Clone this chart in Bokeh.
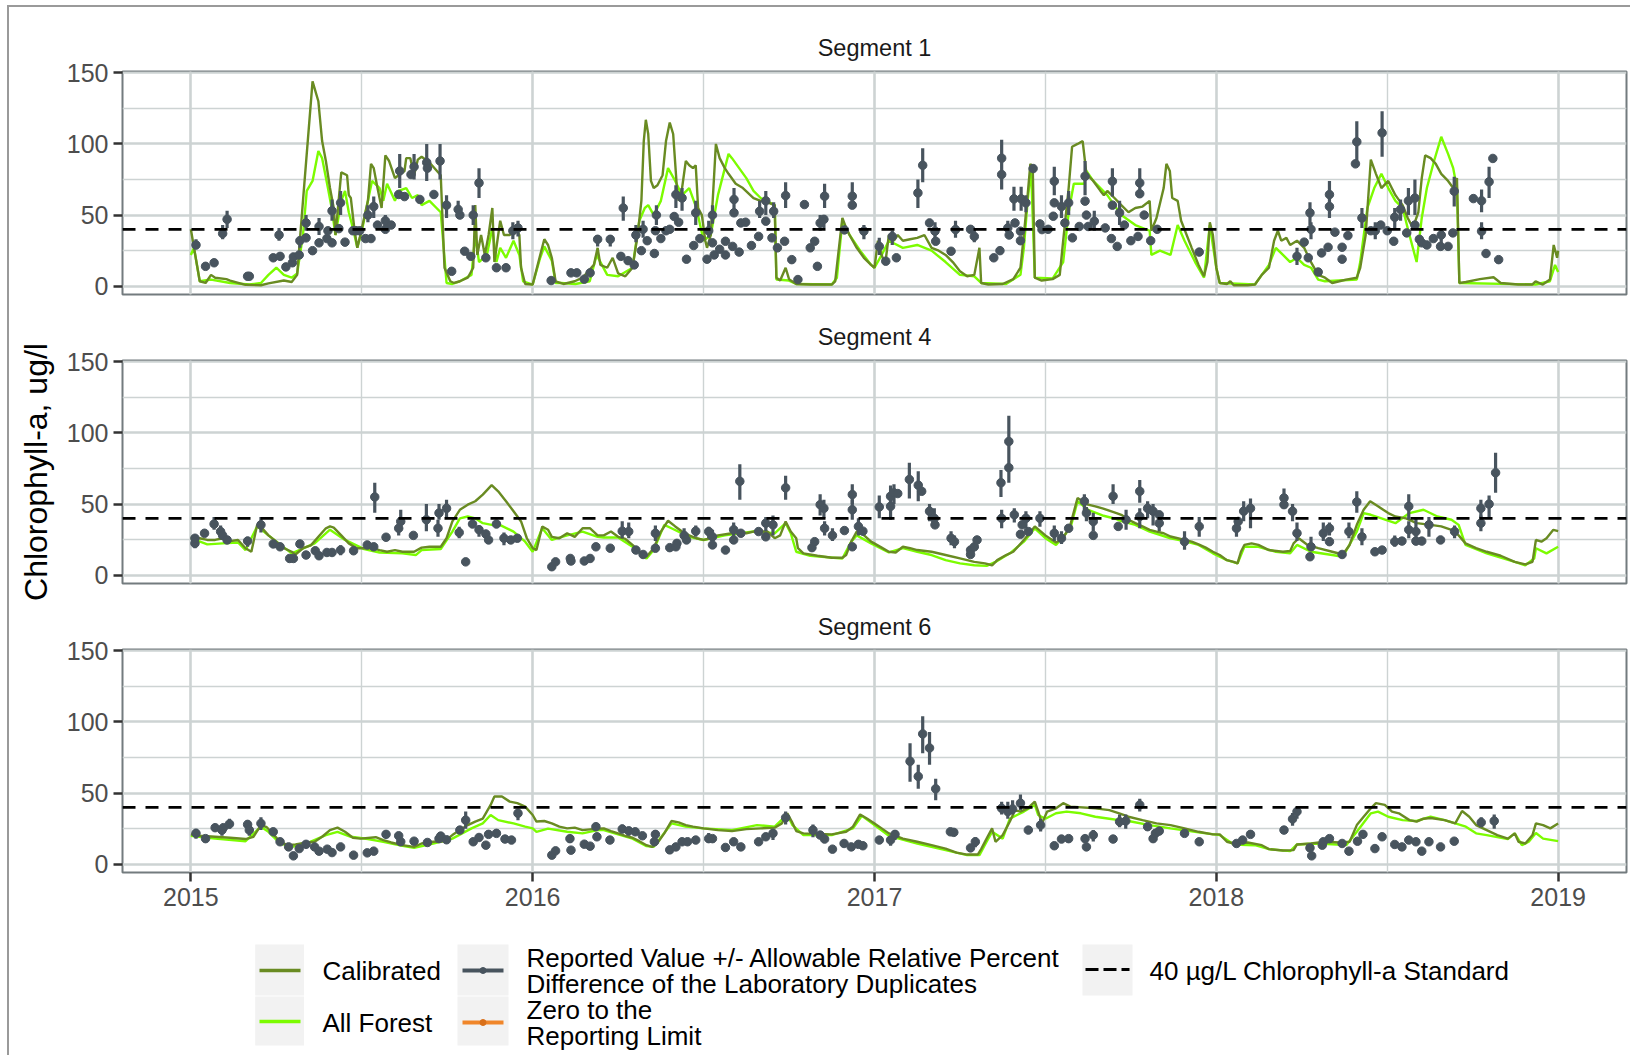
from bokeh.plotting import figure
from bokeh.models import Range1d, FixedTicker, Span, Grid, Title
from bokeh.layouts import column
from bokeh.embed import file_html
from bokeh.resources import INLINE
from bokeh.core.properties import value

# ---------------- data (decimal years, chlorophyll-a ug/l) ----------------
YEAR_TICKS = [2015, 2016, 2017, 2018, 2019]
YEAR_LABELS = ["2015", "2016", "2017", "2018", "2019"]
MID_YEARS = [2015.5, 2016.5, 2017.5, 2018.5]
Y_TICKS = [0, 50, 100, 150]
Y_MINOR = [25, 75, 125]
STANDARD = 40
SEGMENTS = ["Segment 1", "Segment 4", "Segment 6"]
SERIES = ["Calibrated", "All Forest"]

S1_CAL = [(2015.000,40),(2015.026,3.5),(2015.043,2.3),(2015.059,8),(2015.071,6),(2015.104,5),(2015.115,4),(2015.160,1),(2015.205,0.7),(2015.227,2),(2015.272,4),(2015.295,3),(2015.311,8),(2015.328,60),(2015.356,144),(2015.373,130),(2015.384,102),(2015.395,88),(2015.407,69),(2015.418,55),(2015.423,36),(2015.440,80),(2015.457,78),(2015.462,64),(2015.468,62),(2015.479,39),(2015.487,27),(2015.496,36),(2015.518,60),(2015.527,86),(2015.535,83),(2015.546,69),(2015.558,55),(2015.569,92),(2015.580,88),(2015.597,76),(2015.614,79),(2015.625,81),(2015.630,90),(2015.642,90),(2015.653,78),(2015.664,89),(2015.675,91),(2015.698,87),(2015.720,81),(2015.731,78),(2015.742,13),(2015.759,3.5),(2015.770,2.3),(2015.787,3.5),(2015.810,6),(2015.826,13),(2015.832,57),(2015.838,22),(2015.849,36),(2015.860,22),(2015.871,36),(2015.882,55),(2015.888,17),(2015.905,46),(2015.916,36),(2015.933,36),(2015.950,41),(2015.961,36),(2015.966,13),(2015.978,1.6),(2016.000,1.2),(2016.022,22),(2016.034,33),(2016.045,29),(2016.056,20),(2016.067,3.5),(2016.090,1.6),(2016.123,3.5),(2016.146,6),(2016.179,15),(2016.190,27),(2016.198,15),(2016.218,13),(2016.234,20),(2016.250,9),(2016.271,7),(2016.292,13),(2016.307,36),(2016.318,60),(2016.325,102),(2016.331,117),(2016.338,107),(2016.346,74),(2016.354,69),(2016.365,71),(2016.380,78),(2016.390,102),(2016.401,115),(2016.411,107),(2016.422,69),(2016.427,60),(2016.437,69),(2016.448,88),(2016.458,85),(2016.469,83),(2016.477,85),(2016.484,55),(2016.495,50),(2016.505,32),(2016.510,27),(2016.521,36),(2016.536,100),(2016.547,90),(2016.562,83),(2016.573,79),(2016.594,72),(2016.615,69),(2016.646,62),(2016.667,60),(2016.687,59),(2016.708,57),(2016.713,6),(2016.724,4),(2016.740,13),(2016.750,5),(2016.771,1.6),(2016.812,1.2),(2016.875,1.2),(2016.885,3.5),(2016.896,27),(2016.906,48),(2016.917,41),(2016.927,36),(2016.948,27),(2016.969,20),(2016.990,15),(2017.000,13),(2017.010,32),(2017.021,22),(2017.031,15),(2017.042,36),(2017.057,32),(2017.068,36),(2017.083,32),(2017.104,33),(2017.125,34),(2017.146,36),(2017.167,27),(2017.188,25),(2017.208,22),(2017.229,17),(2017.250,10.5),(2017.271,7),(2017.292,8),(2017.307,27),(2017.312,2.3),(2017.333,1.2),(2017.375,1.6),(2017.406,5),(2017.427,13),(2017.437,36),(2017.448,64),(2017.456,86),(2017.463,83),(2017.469,6),(2017.489,4),(2017.521,5),(2017.542,8),(2017.552,32),(2017.568,69),(2017.578,98),(2017.594,100),(2017.609,102),(2017.620,79),(2017.640,74),(2017.661,67),(2017.671,64),(2017.681,67),(2017.702,62),(2017.722,57),(2017.743,52),(2017.763,55),(2017.784,56),(2017.805,60),(2017.810,39),(2017.825,48),(2017.846,69),(2017.854,86),(2017.864,81),(2017.871,62),(2017.887,60),(2017.897,46),(2017.928,27),(2017.948,15),(2017.964,7),(2017.974,17),(2017.981,45),(2017.990,36),(2018.000,13),(2018.010,2.3),(2018.031,1.6),(2018.041,3.5),(2018.051,0.7),(2018.092,0.7),(2018.113,1.2),(2018.133,8),(2018.154,13),(2018.169,32),(2018.180,39),(2018.190,32),(2018.205,34),(2018.216,29),(2018.236,32),(2018.257,27),(2018.277,17),(2018.298,8),(2018.318,6),(2018.339,2.3),(2018.360,3.5),(2018.380,4.7),(2018.411,6),(2018.421,13),(2018.437,36),(2018.452,89),(2018.467,79),(2018.483,69),(2018.503,74),(2018.524,64),(2018.545,57),(2018.560,48),(2018.575,41),(2018.591,52),(2018.601,76),(2018.611,92),(2018.627,90),(2018.642,86),(2018.658,79),(2018.678,74),(2018.693,69),(2018.704,76),(2018.711,2.3),(2018.730,3),(2018.771,5),(2018.811,6.3),(2018.832,2.3),(2018.883,1.2),(2018.924,1.2),(2018.934,3.5),(2018.955,1.2),(2018.976,4.7),(2018.987,29),(2018.997,20),(2019.000,25)]

S1_AF = [(2015.000,22),(2015.009,27),(2015.026,3.5),(2015.059,4.7),(2015.115,2.3),(2015.171,1.2),(2015.205,2.3),(2015.227,8),(2015.250,13),(2015.272,8),(2015.295,6),(2015.311,9),(2015.328,36),(2015.339,67),(2015.356,74),(2015.373,95),(2015.384,90),(2015.401,69),(2015.412,55),(2015.423,36),(2015.440,60),(2015.451,67),(2015.462,52),(2015.474,41),(2015.487,27),(2015.502,41),(2015.518,60),(2015.530,74),(2015.552,69),(2015.563,60),(2015.574,72),(2015.597,60),(2015.608,67),(2015.630,69),(2015.647,62),(2015.664,64),(2015.675,57),(2015.698,60),(2015.731,52),(2015.748,2.3),(2015.765,1.6),(2015.787,3.5),(2015.821,8),(2015.832,36),(2015.843,17),(2015.866,22),(2015.882,41),(2015.894,17),(2015.905,27),(2015.922,20),(2015.944,32),(2015.961,22),(2015.972,3.5),(2016.000,1.2),(2016.022,20),(2016.034,28),(2016.056,18),(2016.067,2.3),(2016.083,2.3),(2016.125,1.6),(2016.167,3.5),(2016.187,22),(2016.218,8),(2016.250,7),(2016.292,13),(2016.312,46),(2016.328,55),(2016.338,57),(2016.354,50),(2016.375,60),(2016.396,83),(2016.417,74),(2016.437,64),(2016.458,69),(2016.479,55),(2016.500,32),(2016.521,36),(2016.542,64),(2016.573,93),(2016.583,90),(2016.604,83),(2016.625,76),(2016.646,67),(2016.667,62),(2016.708,57),(2016.713,4.7),(2016.750,4),(2016.771,1.6),(2016.875,1.2),(2016.890,6),(2016.906,46),(2016.927,36),(2016.958,25),(2016.990,15),(2017.000,13),(2017.021,22),(2017.042,32),(2017.083,27),(2017.125,29),(2017.167,25),(2017.208,17),(2017.250,8),(2017.292,7),(2017.312,2.3),(2017.385,1.6),(2017.427,8),(2017.437,27),(2017.448,60),(2017.458,83),(2017.469,6),(2017.521,5.4),(2017.552,17),(2017.568,52),(2017.583,72),(2017.614,72),(2017.620,81),(2017.640,74),(2017.681,64),(2017.722,50),(2017.763,43),(2017.805,39),(2017.810,22),(2017.835,25),(2017.866,22),(2017.887,43),(2017.907,32),(2017.938,17),(2017.964,6),(2017.981,43),(2018.000,13),(2018.010,2.3),(2018.113,1.2),(2018.133,8),(2018.154,15),(2018.174,27),(2018.195,22),(2018.216,17),(2018.236,20),(2018.257,15),(2018.277,13),(2018.298,4.7),(2018.318,3.5),(2018.411,4.7),(2018.421,17),(2018.442,55),(2018.462,69),(2018.483,79),(2018.503,69),(2018.524,60),(2018.545,55),(2018.565,36),(2018.586,17),(2018.601,48),(2018.616,69),(2018.637,88),(2018.658,105),(2018.678,93),(2018.693,83),(2018.704,69),(2018.711,2.3),(2018.934,1.2),(2018.976,3.5),(2018.991,15),(2019.000,10)]

S1_OBS = [(2015.015,29),(2015.043,14),(2015.068,16.5),(2015.093,37),(2015.106,47),(2015.166,7),(2015.171,7),(2015.241,20),(2015.261,21),(2015.258,36),(2015.278,13.6),(2015.297,16.5),(2015.300,20.6),(2015.317,22),(2015.319,32),(2015.337,44.5),(2015.337,34),(2015.356,25),(2015.375,30.5),(2015.375,42),(2015.398,33.5),(2015.401,39),(2015.413,30.5),(2015.413,53),(2015.433,40.5),(2015.438,58.6),(2015.451,31),(2015.474,39),(2015.483,39),(2015.494,39),(2015.511,33.5),(2015.527,33.5),(2015.518,50),(2015.535,56),(2015.546,43),(2015.569,40),(2015.569,46),(2015.586,43),(2015.608,64.5),(2015.611,81),(2015.625,63),(2015.644,78.5),(2015.653,84),(2015.670,61),(2015.690,87),(2015.692,83),(2015.711,64.5),(2015.729,88),(2015.748,57),(2015.763,10.5),(2015.782,54),(2015.787,50),(2015.801,24.6),(2015.819,21),(2015.826,50),(2015.843,72.6),(2015.863,20),(2015.894,13),(2015.922,13),(2015.942,39),(2015.957,41),(2016.054,4),(2016.112,9.4),(2016.129,9.4),(2016.151,5),(2016.168,9.4),(2016.190,33),(2016.227,33),(2016.258,21),(2016.265,55),(2016.279,18),(2016.297,15),(2016.302,36),(2016.318,25),(2016.323,40),(2016.335,32),(2016.356,23),(2016.359,39),(2016.362,50),(2016.375,33.5),(2016.390,39),(2016.401,40),(2016.414,49),(2016.419,64.4),(2016.427,45),(2016.437,62),(2016.450,19),(2016.471,28.6),(2016.477,51.6),(2016.489,33.5),(2016.510,19),(2016.515,39),(2016.526,50),(2016.526,30.5),(2016.531,22),(2016.547,26),(2016.564,31.6),(2016.564,22),(2016.585,28),(2016.589,61),(2016.589,51.6),(2016.604,24),(2016.609,44.5),(2016.623,45),(2016.640,28.6),(2016.661,35),(2016.664,52.7),(2016.682,60),(2016.682,45.7),(2016.700,34),(2016.705,52.7),(2016.716,27),(2016.737,31.6),(2016.740,63.7),(2016.758,18.7),(2016.776,4.7),(2016.795,57.4),(2016.812,27),(2016.825,31.6),(2016.833,14),(2016.841,44.5),(2016.852,47),(2016.854,63.3),(2016.912,39.6),(2016.935,63.3),(2016.935,57),(2016.969,38.7),(2017.014,28),(2017.033,17.6),(2017.052,35),(2017.064,20),(2017.127,65.6),(2017.141,85),(2017.161,44.5),(2017.177,38.7),(2017.179,31.6),(2017.224,24.6),(2017.237,39.8),(2017.281,40),(2017.292,35),(2017.349,20),(2017.367,25),(2017.372,90),(2017.372,78.5),(2017.390,41),(2017.394,36),(2017.408,61.4),(2017.411,44.5),(2017.429,61.4),(2017.427,38.7),(2017.427,32),(2017.443,58.6),(2017.464,82.7),(2017.484,43.8),(2017.490,39.8),(2017.508,40),(2017.523,49.2),(2017.526,73.8),(2017.526,58.6),(2017.547,56),(2017.557,44.5),(2017.568,58.6),(2017.579,34),(2017.599,42),(2017.616,77.3),(2017.616,59.8),(2017.620,50),(2017.625,42),(2017.643,45.7),(2017.675,41),(2017.696,73.8),(2017.696,57),(2017.693,33.5),(2017.710,28),(2017.717,51.6),(2017.731,43),(2017.750,32),(2017.771,35),(2017.776,72.6),(2017.776,65),(2017.789,50),(2017.808,32),(2017.827,40),(2017.950,24),(2018.236,21),(2018.257,31),(2018.269,20),(2018.274,51.6),(2018.277,40),(2018.298,10),(2018.308,23.4),(2018.327,27.4),(2018.331,64.4),(2018.331,56),(2018.347,38),(2018.368,27.4),(2018.368,19),(2018.385,35.6),(2018.407,86),(2018.411,101.5),(2018.426,48),(2018.452,39),(2018.465,39),(2018.481,43),(2018.485,107.8),(2018.500,39),(2018.519,31.6),(2018.522,48.5),(2018.539,54),(2018.557,37.5),(2018.562,60),(2018.581,62),(2018.581,43),(2018.594,33),(2018.601,30.5),(2018.616,29),(2018.635,33.5),(2018.656,28),(2018.658,36),(2018.678,28),(2018.692,37.5),(2018.696,66.8),(2018.752,61.6),(2018.776,60),(2018.776,38.7),(2018.789,23),(2018.798,73.4),(2018.809,89.8),(2018.826,18.7)]

S1_ERR = [(2015.015,26,33),(2015.093,33,43),(2015.106,41,53),(2015.258,32,41),(2015.319,27,35),(2015.337,39,50),(2015.375,36,48),(2015.413,46,61),(2015.438,50,67),(2015.518,45,57),(2015.535,48,63),(2015.569,41,50),(2015.611,69,93),(2015.653,75,93),(2015.690,74,100),(2015.729,75,100),(2015.748,48,64),(2015.782,48,60),(2015.826,43,57),(2015.843,62,83),(2015.942,33,45),(2015.957,35,46),(2016.190,28,36),(2016.227,28,36),(2016.265,46,63),(2016.302,31,43),(2016.323,34,46),(2016.362,43,57),(2016.419,55,71),(2016.437,53,69),(2016.477,43,60),(2016.515,34,46),(2016.526,44,57),(2016.589,53,69),(2016.664,48,60),(2016.682,50,67),(2016.705,48,59),(2016.740,55,73),(2016.841,39,50),(2016.852,41,50),(2016.854,55,72),(2016.935,56,73),(2016.969,33,43),(2017.014,22,34),(2017.052,29,39),(2017.127,55,75),(2017.141,73,97),(2017.177,33,45),(2017.237,34,46),(2017.292,31,41),(2017.372,68,103),(2017.390,35,46),(2017.408,53,70),(2017.429,53,70),(2017.443,52,64),(2017.526,64,84),(2017.547,48,64),(2017.568,50,67),(2017.616,64,88),(2017.643,39,53),(2017.696,63,83),(2017.717,43,60),(2017.776,62,83),(2018.236,15,27),(2018.274,43,59),(2018.277,33,45),(2018.331,48,74),(2018.411,86,116),(2018.426,41,55),(2018.465,33,45),(2018.485,91,123),(2018.522,41,55),(2018.539,46,61),(2018.562,50,69),(2018.581,50,75),(2018.658,30,41),(2018.696,56,77),(2018.776,52,68),(2018.776,33,45),(2018.798,62,84)]

S4_CAL = [(2015.000,27),(2015.026,26),(2015.048,24.8),(2015.071,24.8),(2015.093,26),(2015.115,24),(2015.138,24.8),(2015.160,19),(2015.177,16.5),(2015.194,35.4),(2015.205,34),(2015.227,28),(2015.250,23.6),(2015.272,19),(2015.295,16.5),(2015.306,14.6),(2015.328,19),(2015.351,21),(2015.373,27),(2015.395,33),(2015.407,34.3),(2015.418,33.5),(2015.440,28),(2015.462,22.4),(2015.485,19),(2015.530,19),(2015.552,17.7),(2015.574,16.5),(2015.597,17.7),(2015.619,16.5),(2015.653,16.5),(2015.675,19.4),(2015.698,20),(2015.731,20),(2015.748,26),(2015.765,37.8),(2015.787,46),(2015.810,49.6),(2015.832,52),(2015.854,56.7),(2015.880,63.3),(2015.899,59),(2015.922,52),(2015.944,45),(2015.966,37.8),(2015.983,26),(2016.000,19),(2016.011,17.7),(2016.028,34.3),(2016.045,32),(2016.056,27),(2016.078,26),(2016.101,29.5),(2016.123,27),(2016.146,33),(2016.168,33),(2016.190,28),(2016.208,28),(2016.229,30.7),(2016.250,27),(2016.271,25.5),(2016.292,21.3),(2016.312,16.5),(2016.333,13),(2016.354,19),(2016.375,30.7),(2016.396,38.3),(2016.417,34.3),(2016.437,30.7),(2016.458,28),(2016.479,26),(2016.500,24.8),(2016.521,26),(2016.542,28),(2016.583,29.5),(2016.604,30.7),(2016.625,29.5),(2016.646,30.7),(2016.687,30.7),(2016.708,26),(2016.724,28),(2016.740,37.8),(2016.755,30.7),(2016.771,26),(2016.776,19),(2016.792,15.4),(2016.833,13.7),(2016.875,12.3),(2016.906,12.3),(2016.917,14.2),(2016.932,23.6),(2016.948,30.7),(2016.963,29.5),(2016.990,23.6),(2017.021,19.4),(2017.042,16.5),(2017.062,16),(2017.083,20),(2017.104,19),(2017.125,17.7),(2017.167,16.5),(2017.208,14.2),(2017.250,11.8),(2017.292,9.4),(2017.323,8.3),(2017.344,7),(2017.359,10.6),(2017.385,14.2),(2017.406,16.5),(2017.437,24.8),(2017.469,34.3),(2017.500,28),(2017.531,23),(2017.552,26),(2017.573,35.4),(2017.594,54.3),(2017.625,49.6),(2017.646,48.4),(2017.667,47),(2017.708,43.7),(2017.722,42.5),(2017.743,39),(2017.763,36.6),(2017.784,34.3),(2017.805,31.9),(2017.825,30.7),(2017.846,29.5),(2017.866,27.2),(2017.887,26),(2017.907,24.8),(2017.928,23.6),(2017.948,21.7),(2017.969,19.4),(2017.990,16.5),(2018.010,14.2),(2018.031,10.6),(2018.051,9.4),(2018.062,8.3),(2018.072,16.5),(2018.082,21.3),(2018.103,22.4),(2018.123,21.3),(2018.154,17.7),(2018.195,16.5),(2018.216,17),(2018.226,22.4),(2018.241,26),(2018.267,21.3),(2018.298,19),(2018.339,16.5),(2018.370,14.6),(2018.390,21.3),(2018.411,35.4),(2018.431,46),(2018.450,52),(2018.473,48.4),(2018.503,43.7),(2018.524,41.3),(2018.555,40),(2018.586,36.6),(2018.627,35.4),(2018.658,34.3),(2018.688,31.9),(2018.709,28),(2018.729,22.4),(2018.760,19),(2018.791,16.5),(2018.832,13.7),(2018.873,9.4),(2018.904,7.6),(2018.925,9.4),(2018.935,24.8),(2018.951,23.6),(2018.966,26),(2018.986,31.9),(2019.000,31)]

S4_AF = [(2015.000,26),(2015.048,21.7),(2015.093,22.4),(2015.138,23),(2015.160,17.7),(2015.194,34.3),(2015.227,28),(2015.295,15.4),(2015.317,17.7),(2015.362,22.4),(2015.407,32),(2015.451,24.8),(2015.507,18.4),(2015.552,16),(2015.619,15.4),(2015.658,14.2),(2015.675,17.7),(2015.731,18.4),(2015.765,30.7),(2015.787,40),(2015.810,41.3),(2015.832,40),(2015.854,36.6),(2015.880,35.4),(2015.899,35.9),(2015.944,30.7),(2015.978,23.6),(2016.000,16.5),(2016.028,33),(2016.056,24.8),(2016.101,28),(2016.146,30.7),(2016.190,27),(2016.208,26.5),(2016.250,26.5),(2016.292,20),(2016.333,11.8),(2016.354,17.7),(2016.385,35.4),(2016.406,33),(2016.458,27),(2016.500,24.8),(2016.562,28),(2016.646,30.7),(2016.708,29.5),(2016.740,36.6),(2016.755,29.5),(2016.771,16.5),(2016.812,13.7),(2016.906,11.8),(2016.932,23.6),(2016.948,28),(2016.990,22.4),(2017.042,16),(2017.083,19),(2017.125,16.5),(2017.167,14.2),(2017.208,10.6),(2017.250,8.3),(2017.292,7),(2017.328,6.6),(2017.354,9.4),(2017.396,15.4),(2017.437,23.6),(2017.469,33),(2017.500,26),(2017.531,21.3),(2017.573,33),(2017.594,52),(2017.625,46),(2017.667,42),(2017.708,39.5),(2017.722,38),(2017.763,35.4),(2017.805,30.7),(2017.866,26),(2017.907,24),(2017.948,21.3),(2017.990,15.4),(2018.031,10.6),(2018.062,8.3),(2018.082,20),(2018.123,20),(2018.174,16.5),(2018.216,15.4),(2018.236,21.3),(2018.277,16.5),(2018.339,14.2),(2018.370,13),(2018.411,30.7),(2018.431,43.7),(2018.452,42.5),(2018.483,40),(2018.524,36.6),(2018.565,43.7),(2018.606,46),(2018.647,41.3),(2018.688,39),(2018.709,35.4),(2018.729,21.3),(2018.791,15.4),(2018.873,9.4),(2018.904,7),(2018.930,11.8),(2018.935,19),(2018.966,15.4),(2019.000,20)]

S4_OBS = [(2015.012,22.4),(2015.012,26),(2015.040,29.5),(2015.068,36),(2015.087,30.7),(2015.093,28),(2015.106,24.8),(2015.166,24),(2015.205,35.4),(2015.241,22),(2015.261,20),(2015.289,11.8),(2015.300,11.8),(2015.319,22),(2015.337,14.2),(2015.364,17.2),(2015.375,13.7),(2015.398,16),(2015.413,16),(2015.438,17.7),(2015.476,17.2),(2015.516,21.3),(2015.535,20),(2015.538,55),(2015.571,26.7),(2015.608,33),(2015.614,37.8),(2015.651,28),(2015.689,39),(2015.723,33),(2015.726,43.7),(2015.748,47),(2015.785,30),(2015.804,9.4),(2015.824,36),(2015.843,32),(2015.863,29),(2015.871,24.8),(2015.894,36),(2015.916,26),(2015.936,24.8),(2015.955,26),(2016.056,6),(2016.067,9.4),(2016.110,11.8),(2016.112,10),(2016.151,10),(2016.168,11.8),(2016.185,20),(2016.227,19),(2016.262,31),(2016.281,30.7),(2016.302,17.7),(2016.323,14.6),(2016.359,29.5),(2016.359,19),(2016.401,19.4),(2016.419,20),(2016.422,22.4),(2016.443,28),(2016.450,24.8),(2016.477,31),(2016.515,30.7),(2016.526,27),(2016.526,21.3),(2016.564,17.7),(2016.588,32),(2016.588,24.8),(2016.606,66),(2016.609,29.5),(2016.661,30.7),(2016.682,36.6),(2016.682,27),(2016.703,35.4),(2016.740,61.4),(2016.817,19.4),(2016.825,23.6),(2016.841,49.6),(2016.852,47),(2016.854,33),(2016.877,28),(2016.912,31.4),(2016.935,56.7),(2016.935,46),(2016.935,20),(2016.953,34.3),(2016.966,31),(2017.014,48),(2017.047,48.4),(2017.047,55.5),(2017.057,57.9),(2017.068,57.4),(2017.102,67.3),(2017.128,63.3),(2017.138,59),(2017.161,45),(2017.175,40),(2017.177,35.4),(2017.224,26),(2017.234,23.6),(2017.281,17.7),(2017.281,14.6),(2017.292,20),(2017.300,24.8),(2017.370,65),(2017.393,94),(2017.393,75.6),(2017.372,40),(2017.409,42.5),(2017.427,28.8),(2017.432,35.4),(2017.443,40),(2017.450,30.7),(2017.484,40),(2017.526,29.5),(2017.547,26),(2017.568,33),(2017.614,52),(2017.620,43.7),(2017.640,37.8),(2017.640,28),(2017.698,55.5),(2017.713,34.3),(2017.736,39),(2017.776,59),(2017.776,41.3),(2017.799,47),(2017.815,45),(2017.833,36.6),(2017.833,42.5),(2017.907,23.6),(2017.950,34.3),(2018.059,33),(2018.064,37.8),(2018.080,45),(2018.100,47),(2018.198,54.3),(2018.198,49.6),(2018.223,45),(2018.236,29.5),(2018.274,13),(2018.277,20),(2018.313,29.5),(2018.331,33),(2018.331,23.6),(2018.368,14.6),(2018.388,30.7),(2018.411,51.5),(2018.426,27),(2018.464,16.5),(2018.485,17.7),(2018.522,23.6),(2018.543,24),(2018.563,48.4),(2018.563,32),(2018.584,30.7),(2018.584,24),(2018.601,24),(2018.622,35.4),(2018.656,24.8),(2018.697,30.7),(2018.774,47),(2018.774,36.6),(2018.798,50),(2018.817,72)]

S4_ERR = [(2015.012,19,27),(2015.068,32,41),(2015.087,26,35),(2015.166,20,27),(2015.205,30,41),(2015.438,14,21),(2015.538,44,65),(2015.608,28,38),(2015.614,32,46),(2015.689,31,50),(2015.723,27,39),(2015.726,39,50),(2015.748,40,53),(2015.785,26,34),(2015.843,27,35),(2015.916,21,30),(2016.262,26,38),(2016.281,26,37),(2016.359,24,35),(2016.443,24,33),(2016.477,27,35),(2016.515,26,34),(2016.526,21,32),(2016.588,26,37),(2016.606,53,78),(2016.682,31,41),(2016.703,28,42),(2016.740,53,70),(2016.841,42,57),(2016.852,40,53),(2016.854,28,38),(2016.877,24,33),(2016.935,50,64),(2016.935,39,53),(2016.953,28,40),(2017.014,40,56),(2017.047,39,54),(2017.047,48,63),(2017.057,50,64),(2017.102,54,79),(2017.128,52,73),(2017.161,38,50),(2017.175,33,47),(2017.224,21,31),(2017.234,19,28),(2017.370,55,74),(2017.393,65,112),(2017.372,33,46),(2017.409,37,47),(2017.443,33,45),(2017.484,34,45),(2017.526,24,35),(2017.547,22,31),(2017.614,43,57),(2017.620,38,48),(2017.640,31,44),(2017.698,50,64),(2017.736,32,46),(2017.776,51,67),(2017.776,33,47),(2017.799,40,52),(2017.815,35,50),(2017.833,31,42),(2017.907,18,31),(2017.950,27,41),(2018.059,27,39),(2018.080,38,52),(2018.100,33,54),(2018.198,47,61),(2018.223,38,50),(2018.236,24,37),(2018.277,17,27),(2018.313,24,37),(2018.331,28,37),(2018.388,26,37),(2018.411,44,59),(2018.426,21,33),(2018.522,20,28),(2018.563,39,57),(2018.563,26,38),(2018.584,21,40),(2018.622,27,41),(2018.697,26,35),(2018.774,40,53),(2018.774,31,42),(2018.798,41,56),(2018.817,58,86)]

S6_CAL = [(2015.000,21),(2015.026,20),(2015.071,19.3),(2015.115,18.6),(2015.160,17.7),(2015.183,19.3),(2015.205,27.5),(2015.222,26),(2015.239,21.7),(2015.261,15.8),(2015.283,13.4),(2015.306,14),(2015.339,15.3),(2015.362,15.8),(2015.384,19.3),(2015.407,24),(2015.429,25.7),(2015.451,22.8),(2015.474,18.6),(2015.496,18),(2015.541,19),(2015.563,17),(2015.586,15.3),(2015.619,13.4),(2015.653,12.2),(2015.675,14.6),(2015.709,15.8),(2015.742,16.2),(2015.765,20.5),(2015.787,24),(2015.810,27.5),(2015.832,30),(2015.854,32),(2015.877,41.7),(2015.888,47.6),(2015.910,47.6),(2015.933,44),(2015.955,42.9),(2015.978,40.5),(2016.000,34.6),(2016.011,30),(2016.034,30.4),(2016.056,28.7),(2016.078,26.4),(2016.101,25.2),(2016.123,25.7),(2016.146,24),(2016.190,25),(2016.208,25.2),(2016.229,23.3),(2016.250,21.7),(2016.271,20),(2016.292,18.6),(2016.312,16.2),(2016.333,13.4),(2016.349,12.2),(2016.364,14.6),(2016.385,21.7),(2016.406,30.4),(2016.427,29.4),(2016.448,27.5),(2016.469,26.4),(2016.500,25.2),(2016.542,24),(2016.583,23.3),(2016.625,24.7),(2016.667,25.2),(2016.708,25.7),(2016.729,28.7),(2016.745,35.8),(2016.758,30),(2016.771,23.3),(2016.792,21.7),(2016.875,21),(2016.917,22.8),(2016.937,26.4),(2016.958,35),(2016.979,32),(2017.000,28.7),(2017.021,25.2),(2017.042,21.7),(2017.062,20),(2017.083,18),(2017.125,15.8),(2017.167,13.4),(2017.208,11),(2017.240,8.2),(2017.271,6.8),(2017.302,6.8),(2017.312,10.6),(2017.328,18),(2017.344,25.2),(2017.354,15.8),(2017.375,20.5),(2017.396,30),(2017.411,38),(2017.427,37),(2017.448,39.3),(2017.469,44),(2017.479,37),(2017.490,28.7),(2017.505,37),(2017.531,39.3),(2017.552,42.9),(2017.573,40.5),(2017.646,39.3),(2017.687,38),(2017.716,35.8),(2017.743,33.4),(2017.784,31),(2017.825,28.7),(2017.866,27.5),(2017.907,25.2),(2017.948,22.8),(2017.990,21),(2018.010,21),(2018.031,15.8),(2018.051,14.6),(2018.092,15.3),(2018.133,13.4),(2018.154,10.6),(2018.195,9.7),(2018.226,9.9),(2018.236,13.9),(2018.277,14.6),(2018.318,15.8),(2018.360,15.3),(2018.390,15.8),(2018.411,27.5),(2018.431,33.4),(2018.452,39.3),(2018.467,42.9),(2018.493,41.7),(2018.514,37),(2018.534,35.8),(2018.565,31),(2018.586,29.9),(2018.606,32),(2018.627,32.5),(2018.668,31),(2018.699,28.7),(2018.719,37.4),(2018.740,33.4),(2018.760,27.5),(2018.791,24),(2018.822,20.5),(2018.853,18),(2018.873,21.7),(2018.884,15.8),(2018.904,14.6),(2018.925,20.5),(2018.935,28.7),(2018.956,27.5),(2018.977,25.2),(2019.000,28.7)]

S6_AF = [(2015.000,20),(2015.071,18),(2015.160,16.2),(2015.205,26.4),(2015.227,22.8),(2015.261,14.6),(2015.295,12.2),(2015.339,14.6),(2015.395,20.5),(2015.429,22.8),(2015.468,19.3),(2015.518,17.7),(2015.563,15.8),(2015.619,13),(2015.653,11.5),(2015.709,14.6),(2015.765,18),(2015.821,25.2),(2015.854,28.7),(2015.877,34.6),(2015.899,31),(2015.944,28.7),(2015.978,26.4),(2016.000,25.2),(2016.011,22.8),(2016.045,25),(2016.101,22.8),(2016.146,21.7),(2016.190,24),(2016.208,24),(2016.250,21),(2016.292,18),(2016.333,12.7),(2016.354,12.2),(2016.406,28.7),(2016.448,26.4),(2016.500,25.2),(2016.583,24),(2016.656,27.5),(2016.708,26.4),(2016.745,35),(2016.760,27.5),(2016.792,20.5),(2016.875,20.5),(2016.937,25.2),(2016.963,34),(2017.000,27.5),(2017.042,20),(2017.125,14.6),(2017.208,9.9),(2017.271,6.4),(2017.307,6.4),(2017.328,15.8),(2017.344,22.8),(2017.375,18),(2017.396,32),(2017.417,34.6),(2017.437,37),(2017.469,41.7),(2017.479,34.6),(2017.500,32),(2017.531,35.8),(2017.562,37),(2017.604,35.8),(2017.646,33.4),(2017.687,32),(2017.716,31),(2017.743,30.4),(2017.805,27.5),(2017.866,25.2),(2017.948,22.4),(2018.010,20.5),(2018.051,13.9),(2018.113,13.4),(2018.154,10.6),(2018.216,9.2),(2018.236,13.9),(2018.298,14.6),(2018.380,13.4),(2018.411,22.8),(2018.452,35.8),(2018.473,37),(2018.503,33.4),(2018.545,31),(2018.586,30.4),(2018.627,33.4),(2018.668,31),(2018.699,28.7),(2018.730,26.4),(2018.760,21.7),(2018.791,20.5),(2018.853,17.7),(2018.873,21.7),(2018.894,13.4),(2018.914,15.8),(2018.935,22),(2018.956,18),(2019.000,16.2)]

S6_OBS = [(2015.015,21.7),(2015.043,18),(2015.071,25.7),(2015.091,24),(2015.095,25.7),(2015.113,28.3),(2015.166,28),(2015.171,24),(2015.205,28.7),(2015.241,22.8),(2015.261,15.8),(2015.286,12.2),(2015.300,5.9),(2015.317,11),(2015.337,14),(2015.362,12.2),(2015.375,9.2),(2015.399,10.6),(2015.413,8.2),(2015.438,12.2),(2015.476,6.4),(2015.516,8),(2015.535,9.2),(2015.571,21),(2015.608,20),(2015.614,15.8),(2015.653,16.2),(2015.692,15.3),(2015.726,18),(2015.731,19.8),(2015.748,17.2),(2015.787,24),(2015.804,31),(2015.826,15.8),(2015.843,18.8),(2015.863,13.4),(2015.871,21),(2015.894,21.7),(2015.919,17.7),(2015.938,17),(2015.957,35.8),(2016.056,6.4),(2016.067,9.4),(2016.109,18),(2016.112,9.9),(2016.151,14.1),(2016.168,12.7),(2016.185,26.4),(2016.188,19.3),(2016.226,17),(2016.262,24.7),(2016.281,23.5),(2016.300,22.8),(2016.321,20),(2016.359,21),(2016.356,15.8),(2016.401,10.1),(2016.419,12.2),(2016.437,15.8),(2016.453,15.8),(2016.477,17),(2016.515,18),(2016.526,18),(2016.564,11.8),(2016.588,15.8),(2016.609,12.2),(2016.661,15.8),(2016.682,19.3),(2016.703,21.7),(2016.740,32.7),(2016.820,24),(2016.841,20.5),(2016.854,17.7),(2016.877,10.6),(2016.911,14.6),(2016.932,12.2),(2016.953,14),(2016.966,13),(2017.014,17),(2017.047,17),(2017.060,21),(2017.104,72.3),(2017.128,61.7),(2017.141,91.6),(2017.161,81.7),(2017.179,53),(2017.222,22.8),(2017.232,22.4),(2017.281,11.5),(2017.295,15.8),(2017.372,39.3),(2017.390,37),(2017.404,38.9),(2017.427,42.9),(2017.450,24),(2017.486,27.5),(2017.526,13),(2017.547,17.7),(2017.568,18),(2017.616,18),(2017.620,12.2),(2017.640,20.5),(2017.698,17.7),(2017.717,29.9),(2017.735,30.4),(2017.776,41.7),(2017.799,26.4),(2017.815,18),(2017.822,21.7),(2017.833,23.3),(2017.907,21.7),(2017.950,15.8),(2018.059,14.6),(2018.077,17),(2018.100,21),(2018.198,24),(2018.223,31.8),(2018.236,37),(2018.274,11.5),(2018.279,5.9),(2018.310,13.4),(2018.313,15.8),(2018.331,18),(2018.368,14.6),(2018.388,9.2),(2018.413,16.2),(2018.429,21),(2018.464,11),(2018.485,19.3),(2018.522,13.9),(2018.543,12.2),(2018.563,17),(2018.584,15.8),(2018.601,9.2),(2018.622,15.8),(2018.656,12.2),(2018.696,16.2),(2018.775,29.4),(2018.813,30.4)]

S6_ERR = [(2015.015,18,25),(2015.091,20,27),(2015.113,25,32),(2015.166,25,31),(2015.171,20,27),(2015.205,24,33),(2015.804,25,37),(2015.957,31,39),(2016.109,15,20),(2016.262,22,28),(2016.281,20,26),(2016.359,17,24),(2016.515,15,22),(2016.703,17,25),(2016.740,28,37),(2016.820,19,28),(2017.047,13,20),(2017.060,17,24),(2017.104,58,85),(2017.128,53,70),(2017.141,78,104),(2017.161,70,93),(2017.179,45,60),(2017.295,12,19),(2017.372,35,44),(2017.390,32,44),(2017.404,35,45),(2017.427,38,49),(2017.486,23,32),(2017.640,16,24),(2017.717,26,35),(2017.735,25,35),(2017.776,37,46),(2018.223,27,36),(2018.236,32,40),(2018.775,26,33),(2018.813,25,35)]

# ---------------- styling ----------------
FONT = "Liberation Sans"
COL_CAL = "#698B22"
COL_AF = "#7CFC00"
COL_OBS = "#48545E"
COL_ZERO = "#F0862A"
GRID_COL = "#CDD3D3"
BORDER_COL = "#737B7E"

X_START, X_END = 2014.8, 2019.2
Y_START, Y_END = -5.8, 150.9
W = 1621
LEFT, RIGHT = 113, 4
FRAME_H = 223


def make_panel(seg, cal, af, obs, err, top, bottom, show_x, strip_gap, ytitle=None):
    p = figure(width=W, height=top + FRAME_H + bottom,
               x_range=Range1d(X_START, X_END), y_range=Range1d(Y_START, Y_END),
               output_backend="svg", toolbar_location=None,
               x_axis_location="below" if show_x else None,
               min_border_left=LEFT, min_border_right=RIGHT,
               min_border_top=top, min_border_bottom=bottom,
               background_fill_color="white", border_fill_color="white")
    p.outline_line_color = BORDER_COL
    p.outline_line_width = 2

    # facet strip label
    p.add_layout(Title(text=seg, align="center", text_font=FONT,
                       text_font_size="23.5px", text_font_style="normal",
                       text_color="#1A1A1A", standoff=strip_gap), "above")

    # grids
    p.ygrid.ticker = FixedTicker(ticks=Y_TICKS, minor_ticks=Y_MINOR)
    p.ygrid.grid_line_color = GRID_COL
    p.ygrid.grid_line_width = 2.6
    p.ygrid.minor_grid_line_color = GRID_COL
    p.ygrid.minor_grid_line_width = 1.4
    xg_ticker = FixedTicker(ticks=YEAR_TICKS, minor_ticks=MID_YEARS)
    if show_x:
        xg = p.xgrid[0]
    else:
        xg = Grid(dimension=0)
        p.add_layout(xg)
    xg.ticker = xg_ticker
    xg.grid_line_color = GRID_COL
    xg.grid_line_width = 2.6
    xg.minor_grid_line_color = GRID_COL
    xg.minor_grid_line_width = 1.4

    # y axis
    ya = p.yaxis[0]
    ya.ticker = FixedTicker(ticks=Y_TICKS, minor_ticks=Y_MINOR)
    ya.axis_line_color = None
    ya.major_tick_out = 9
    ya.major_tick_in = 0
    ya.major_tick_line_width = 2.5
    ya.major_tick_line_color = "#333333"
    ya.minor_tick_line_color = None
    ya.major_label_text_font = FONT
    ya.major_label_text_font_size = "25px"
    ya.major_label_text_color = "#4D4D4D"
    ya.major_label_standoff = 5
    if ytitle:
        ya.axis_label = ytitle
        ya.axis_label_text_font = FONT
        ya.axis_label_text_font_size = "32px"
        ya.axis_label_text_font_style = "normal"
        ya.axis_label_text_color = "black"
        ya.axis_label_standoff = 10

    if show_x:
        xa = p.xaxis[0]
        xa.ticker = FixedTicker(ticks=YEAR_TICKS)
        xa.major_label_overrides = {t: l for t, l in zip(YEAR_TICKS, YEAR_LABELS)}
        xa.axis_line_color = None
        xa.major_tick_out = 9
        xa.major_tick_in = 0
        xa.major_tick_line_width = 2.5
        xa.major_tick_line_color = "#333333"
        xa.minor_tick_line_color = None
        xa.major_label_text_font = FONT
        xa.major_label_text_font_size = "25px"
        xa.major_label_text_color = "#4D4D4D"
        xa.major_label_standoff = 6

    # model lines
    ct, cv = zip(*cal)
    at, av = zip(*af)
    p.line(list(at), list(av), line_color=COL_AF, line_width=2.4)
    p.line(list(ct), list(cv), line_color=COL_CAL, line_width=2.4)

    # observations with allowable RPD range
    et, elo, ehi = zip(*err)
    p.segment(x0=list(et), y0=list(elo), x1=list(et), y1=list(ehi),
              line_color=COL_OBS, line_width=3.2)
    ot, ov = zip(*obs)
    p.scatter(list(ot), list(ov), size=8.5, fill_color=COL_OBS, line_color=COL_OBS)

    # 40 ug/L standard
    p.add_layout(Span(location=STANDARD, dimension="width", line_color="black",
                      line_width=2.8, line_dash="13 10"))
    return p


p1 = make_panel(SEGMENTS[0], S1_CAL, S1_AF, S1_OBS, S1_ERR, 64, 14, False, 22)
p2 = make_panel(SEGMENTS[1], S4_CAL, S4_AF, S4_OBS, S4_ERR, 52, 18, False, 22,
                ytitle="Chlorophyll-a, ug/l")
p3 = make_panel(SEGMENTS[2], S6_CAL, S6_AF, S6_OBS, S6_ERR, 48, 46, True, 19)

# ---------------- legend ----------------
LEG_H = 137
leg = figure(width=W, height=LEG_H, x_range=Range1d(LEFT, W - RIGHT), y_range=Range1d(LEG_H, 0),
             output_backend="svg", toolbar_location=None,
             x_axis_location=None, y_axis_location=None,
             min_border_left=LEFT, min_border_right=RIGHT, min_border_top=0, min_border_bottom=0)
leg.outline_line_color = None
leg.background_fill_color = "white"
leg.border_fill_color = "white"
for g in leg.select(type=Grid):
    g.visible = False

KEY_L = [245.7, 245.7, 448, 448, 1073]
KEY_R = [294.5, 294.5, 499, 499, 1123]
KEY_T = [26, 78, 26, 78, 26]
KEY_B = [77, 127, 77, 127, 77]
leg.quad(left=KEY_L, right=KEY_R, top=KEY_T, bottom=KEY_B,
         fill_color="#F2F2F2", line_color=None)

leg.line([250, 291], [52, 52], line_color=COL_CAL, line_width=3.5)
leg.line([250, 291], [103, 103], line_color=COL_AF, line_width=3.5)
leg.line([453, 494], [52, 52], line_color=COL_OBS, line_width=4)
leg.scatter([473.5], [52], size=6, fill_color=COL_OBS, line_color=COL_OBS)
leg.line([453, 494], [104, 104], line_color=COL_ZERO, line_width=4)
leg.scatter([473.5], [104], size=6, fill_color="#D9701A", line_color="#D9701A")
leg.line([1076, 1120], [51, 51], line_color="black", line_width=3.2, line_dash="13 5")

LEG_TEXT = [SERIES[0], SERIES[1],
            "Reported Value +/- Allowable Relative Percent",
            "Difference of the Laboratory Duplicates",
            "Zero to the", "Reporting Limit",
            "40 \u00b5g/L Chlorophyll-a Standard"]
LEG_X = [313, 313, 517, 517, 517, 517, 1140]
LEG_Y = [52, 104, 39, 65, 91, 117, 52]
leg.text(x=LEG_X, y=LEG_Y, text=LEG_TEXT, text_font=value(FONT),
         text_font_size="26px", text_color="black",
         text_align="left", text_baseline="middle")

layout = column(p1, p2, p3, leg, margin=(5, 0, 0, 7),
                styles={"border-left": "2px solid #9A9A9A", "border-top": "2px solid #9A9A9A"})

open("out.html", "w").write(file_html(layout, INLINE))
